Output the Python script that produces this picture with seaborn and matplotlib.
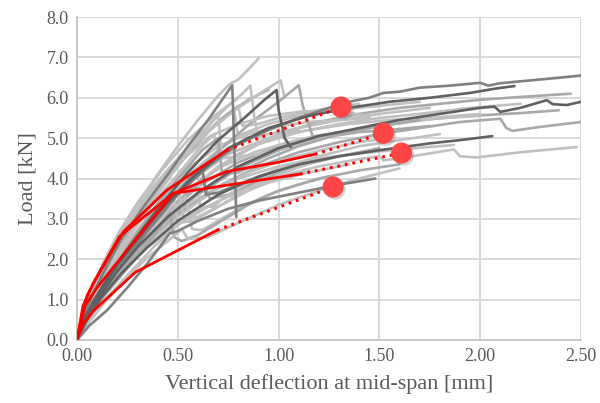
import matplotlib
matplotlib.use("Agg")
import matplotlib.pyplot as plt
import matplotlib.patheffects as pe
import seaborn as sns
import pandas as pd

# ---------------- data ----------------
LIGHT, MED, DARK, DARKER = "#c0c0c0", "#a8a8a8", "#808080", "#606060"

g01_x = [0, 0.04, 0.1, 0.2, 0.35, 0.5, 0.65, 0.8, 0.95, 1.1, 1.25, 1.35, 1.45, 1.52, 1.6, 1.7, 1.85, 2.0, 2.04, 2.1, 2.25, 2.4, 2.5]
g01_y = [0, 0.5, 1.0, 1.7, 2.7, 3.6, 4.3, 4.85, 5.2, 5.5, 5.75, 5.9, 6.0, 6.12, 6.15, 6.25, 6.3, 6.37, 6.3, 6.36, 6.43, 6.5, 6.55]
g02_x = [0, 0.04, 0.1, 0.2, 0.3, 0.45, 0.6, 0.8, 1.0, 1.2, 1.4, 1.6, 1.8, 2.0, 2.2, 2.45]
g02_y = [0, 0.5, 1.05, 1.8, 2.4, 3.2, 3.9, 4.6, 5.1, 5.4, 5.6, 5.75, 5.85, 5.95, 6.02, 6.1]
g03_x = [0, 0.04, 0.1, 0.2, 0.3, 0.45, 0.6, 0.8, 1.0, 1.2, 1.4, 1.6, 1.8, 2.0, 2.07, 2.1, 2.2, 2.33, 2.36, 2.43, 2.5]
g03_y = [0, 0.45, 1.0, 1.7, 2.3, 3.05, 3.65, 4.3, 4.75, 5.05, 5.25, 5.45, 5.6, 5.75, 5.78, 5.65, 5.75, 5.94, 5.84, 5.82, 5.9]
g04_x = [0, 0.05, 0.12, 0.22, 0.35, 0.5, 0.7, 0.9, 1.1, 1.3, 1.5, 1.7, 1.9, 2.1, 2.13, 2.16, 2.3, 2.5]
g04_y = [0, 0.5, 1.05, 1.7, 2.4, 3.1, 3.8, 4.3, 4.65, 4.9, 5.1, 5.25, 5.4, 5.48, 5.25, 5.18, 5.28, 5.4]
g05_x = [0, 0.04, 0.1, 0.2, 0.3, 0.45, 0.6, 0.8, 1.0, 1.2, 1.45, 1.7, 1.95, 2.2, 2.39]
g05_y = [0, 0.5, 1.0, 1.7, 2.3, 3.0, 3.6, 4.25, 4.7, 5.0, 5.25, 5.45, 5.55, 5.62, 5.69]
g06_x = [0, 0.05, 0.12, 0.22, 0.35, 0.5, 0.65, 0.8, 1.0, 1.2, 1.4, 1.5, 1.52, 1.6, 1.87, 1.9, 1.98, 2.2, 2.48]
g06_y = [0, 0.55, 1.1, 1.7, 2.3, 2.85, 3.3, 3.7, 4.05, 4.3, 4.48, 4.55, 4.45, 4.5, 4.72, 4.55, 4.52, 4.65, 4.78]
g07_x = [0, 0.05, 0.12, 0.22, 0.35, 0.5, 0.7, 0.9, 1.1, 1.3, 1.5, 1.75, 1.9, 2.06]
g07_y = [0, 0.5, 1.05, 1.65, 2.3, 2.95, 3.6, 4.05, 4.35, 4.55, 4.7, 4.87, 4.95, 5.05]
g08_x = [0, 0.06, 0.15, 0.25, 0.35, 0.46, 0.5, 0.6, 0.75, 0.9, 1.05, 1.2, 1.3, 1.4, 1.48]
g08_y = [0, 0.35, 0.74, 1.3, 1.9, 2.64, 2.7, 2.95, 3.25, 3.45, 3.6, 3.75, 3.85, 3.93, 4.0]
g09_x = [0, 0.05, 0.12, 0.2, 0.3, 0.45, 0.6, 0.8, 1.0, 1.2, 1.4, 1.6, 1.87]
g09_y = [0, 0.55, 1.1, 1.6, 2.2, 2.95, 3.5, 4.0, 4.3, 4.5, 4.62, 4.72, 4.83]
g10_x = [0, 0.04, 0.1, 0.2, 0.3, 0.42, 0.58, 0.75, 0.95, 1.15, 1.35, 1.55, 1.75, 1.95, 2.08, 2.17]
g10_y = [0, 0.55, 1.1, 1.85, 2.5, 3.25, 4.05, 4.75, 5.25, 5.55, 5.75, 5.9, 6.0, 6.12, 6.23, 6.29]
g11_x = [0, 0.04, 0.1, 0.2, 0.3, 0.5, 0.7, 0.9, 1.1, 1.3, 1.5, 1.7, 1.95, 2.2]
g11_y = [0, 0.5, 1.05, 1.75, 2.4, 3.45, 4.3, 4.85, 5.15, 5.35, 5.5, 5.6, 5.75, 5.85]
g12_x = [0, 0.04, 0.1, 0.18, 0.27, 0.42, 0.58, 0.75, 0.95, 1.15, 1.35, 1.55, 1.75, 2.0]
g12_y = [0, 0.5, 1.05, 1.65, 2.3, 3.2, 4.0, 4.6, 5.0, 5.2, 5.35, 5.45, 5.5, 5.6]
g13_x = [0, 0.04, 0.1, 0.2, 0.3, 0.45, 0.6, 0.8, 1.0, 1.2, 1.4, 1.55, 1.75]
g13_y = [0, 0.5, 1.0, 1.7, 2.3, 3.1, 3.8, 4.4, 4.8, 5.0, 5.15, 5.2, 5.3]
g14_x = [0, 0.05, 0.12, 0.2, 0.33, 0.5, 0.68, 0.85, 1.05, 1.25, 1.4, 1.55]
g14_y = [0, 0.55, 1.1, 1.6, 2.3, 3.05, 3.7, 4.15, 4.5, 4.75, 4.9, 5.0]
g15_x = [0, 0.03, 0.08, 0.16, 0.25, 0.4, 0.55, 0.7, 0.85, 1.0, 1.15, 1.3, 1.45]
g15_y = [0, 0.5, 1.0, 1.7, 2.4, 3.35, 4.25, 4.8, 5.1, 5.3, 5.4, 5.45, 5.5]
g16_x = [0, 0.04, 0.1, 0.18, 0.28, 0.42, 0.56, 0.72, 0.88, 1.05, 1.18, 1.3]
g16_y = [0, 0.5, 1.0, 1.6, 2.2, 3.0, 3.75, 4.3, 4.65, 4.9, 5.05, 5.15]

f01_x = [0, 0.03, 0.07, 0.14, 0.22, 0.3, 0.4, 0.5, 0.6, 0.7, 0.76, 0.8, 0.85, 0.9]
f01_y = [0, 0.6, 1.2, 2.0, 2.75, 3.35, 4.1, 4.8, 5.45, 6.05, 6.35, 6.45, 6.7, 6.97]
f02_x = [0, 0.03, 0.08, 0.15, 0.22, 0.33, 0.45, 0.55, 0.65, 0.72, 0.77, 0.78, 0.79]
f02_y = [0, 0.55, 1.15, 1.85, 2.5, 3.3, 4.1, 4.8, 5.45, 5.95, 6.31, 4.8, 3.05]
f03_x = [0, 0.03, 0.08, 0.16, 0.25, 0.4, 0.55, 0.7, 0.83, 0.93, 0.99, 1.0, 1.03, 1.06]
f03_y = [0, 0.45, 0.95, 1.6, 2.25, 3.25, 4.15, 4.95, 5.5, 5.95, 6.19, 5.7, 5.0, 4.78]
f04_x = [0, 0.04, 0.1, 0.18, 0.28, 0.42, 0.58, 0.74, 0.88, 1.0, 1.1, 1.12, 1.17, 1.22]
f04_y = [0, 0.5, 1.0, 1.65, 2.3, 3.2, 4.1, 4.85, 5.45, 5.9, 6.31, 5.8, 5.03, 5.08]
f05_x = [0, 0.03, 0.08, 0.15, 0.24, 0.38, 0.52, 0.66, 0.8, 0.92, 1.01, 1.03]
f05_y = [0, 0.55, 1.2, 1.95, 2.8, 3.75, 4.55, 5.2, 5.75, 6.15, 6.43, 6.0]
f06_x = [0, 0.03, 0.08, 0.15, 0.23, 0.36, 0.5, 0.62, 0.74, 0.82, 0.86, 0.88, 0.9]
f06_y = [0, 0.6, 1.2, 1.95, 2.7, 3.7, 4.5, 5.15, 5.75, 6.1, 6.3, 5.5, 5.0]
f08_x = [0, 0.05, 0.12, 0.22, 0.32, 0.4, 0.46, 0.48, 0.52, 0.6, 0.7, 0.85, 1.0, 1.2, 1.4, 1.6]
f08_y = [0, 0.5, 1.0, 1.6, 2.2, 2.7, 3.15, 2.55, 2.45, 2.6, 2.9, 3.35, 3.7, 4.0, 4.2, 4.35]
f09_x = [0, 0.04, 0.1, 0.2, 0.3, 0.42, 0.54, 0.57, 0.62, 0.7, 0.82, 0.95, 1.1, 1.25]
f09_y = [0, 0.55, 1.05, 1.7, 2.3, 2.95, 3.55, 2.75, 2.72, 2.95, 3.3, 3.6, 3.85, 4.05]
f10_x = [0, 0.04, 0.1, 0.18, 0.26, 0.38, 0.5, 0.6, 0.61, 0.68, 0.72, 0.85, 1.0, 1.2, 1.4, 1.6, 1.8]
f10_y = [0, 0.5, 1.05, 1.65, 2.25, 3.05, 3.7, 4.1, 3.3, 3.3, 3.5, 3.9, 4.25, 4.55, 4.8, 4.95, 5.1]
f11_x = [0, 0.04, 0.1, 0.18, 0.25, 0.38, 0.5, 0.62, 0.7, 0.72, 0.8, 0.95, 1.1, 1.3, 1.5, 1.7]
f11_y = [0, 0.5, 1.05, 1.7, 2.3, 3.25, 4.0, 4.7, 5.0, 4.1, 4.15, 4.5, 4.8, 5.1, 5.3, 5.45]
f12_x = [0, 0.03, 0.08, 0.16, 0.25, 0.38, 0.52, 0.66, 0.8, 0.95, 1.1, 1.25, 1.45]
f12_y = [0, 0.55, 1.15, 1.95, 2.7, 3.6, 4.45, 5.05, 5.35, 5.55, 5.65, 5.7, 5.55]
f13_x = [0, 0.03, 0.08, 0.15, 0.24, 0.37, 0.5, 0.62, 0.7, 0.72, 0.9, 1.2, 1.5, 1.8, 2.0]
f13_y = [0, 0.5, 1.05, 1.7, 2.45, 3.4, 4.3, 5.1, 5.6, 4.5, 4.6, 5.0, 5.3, 5.5, 5.55]
f14_x = [0, 0.04, 0.1, 0.18, 0.27, 0.4, 0.55, 0.62, 0.64, 0.7, 0.85, 1.0]
f14_y = [0, 0.5, 1.0, 1.6, 2.2, 3.1, 3.95, 4.3, 3.6, 3.65, 3.95, 4.2]
f15_x = [0, 0.04, 0.1, 0.18, 0.28, 0.4, 0.5, 0.53, 0.6, 0.7, 0.85, 1.0, 1.15]
f15_y = [0, 0.55, 1.05, 1.65, 2.35, 3.2, 3.9, 3.0, 3.05, 3.3, 3.7, 4.0, 4.2]
f16_x = [0, 0.06, 0.14, 0.24, 0.34, 0.45, 0.52, 0.55, 0.65, 0.8, 1.0, 1.2, 1.4, 1.6]
f16_y = [0, 0.45, 0.95, 1.5, 2.0, 2.45, 2.75, 2.5, 2.55, 2.9, 3.35, 3.7, 4.0, 4.25]

h01_x = [0, 0.03, 0.08, 0.15, 0.25, 0.38, 0.5, 0.62, 0.72, 0.8, 0.82, 0.9, 1.0, 1.2, 1.4]
h01_y = [0, 0.55, 1.15, 1.9, 2.75, 3.65, 4.4, 5.05, 5.5, 5.8, 5.3, 5.35, 5.5, 5.7, 5.85]
h02_x = [0, 0.03, 0.08, 0.15, 0.25, 0.38, 0.5, 0.6, 0.68, 0.7, 0.8, 0.95, 1.1]
h02_y = [0, 0.5, 1.0, 1.7, 2.5, 3.4, 4.1, 4.7, 5.1, 4.6, 4.7, 5.0, 5.2]
h03_x = [0, 0.04, 0.1, 0.18, 0.3, 0.42, 0.55, 0.65, 0.75, 0.85, 0.95]
h03_y = [0, 0.65, 1.3, 2.1, 3.0, 3.85, 4.6, 5.15, 5.6, 5.95, 6.2]
h04_x = [0, 0.04, 0.1, 0.2, 0.32, 0.45, 0.58, 0.7, 0.82, 0.95, 1.1, 1.3, 1.5, 1.7]
h04_y = [0, 0.5, 1.05, 1.85, 2.7, 3.5, 4.2, 4.7, 5.1, 5.35, 5.55, 5.7, 5.8, 5.9]
h05_x = [0, 0.04, 0.1, 0.2, 0.3, 0.4, 0.48, 0.5, 0.58, 0.7, 0.85, 1.0, 1.2]
h05_y = [0, 0.5, 1.05, 1.8, 2.5, 3.1, 3.5, 2.9, 2.95, 3.3, 3.75, 4.1, 4.45]
h06_x = [0, 0.03, 0.08, 0.16, 0.26, 0.38, 0.5, 0.6, 0.7, 0.78, 0.8, 0.9, 1.05, 1.25, 1.5, 1.75]
h06_y = [0, 0.55, 1.15, 1.95, 2.8, 3.65, 4.4, 4.95, 5.4, 5.7, 5.0, 5.05, 5.2, 5.4, 5.6, 5.75]
h07_x = [0, 0.05, 0.12, 0.22, 0.35, 0.5, 0.62, 0.66, 0.75, 0.9, 1.1, 1.3, 1.5]
h07_y = [0, 0.5, 1.05, 1.7, 2.5, 3.4, 4.0, 3.5, 3.6, 3.95, 4.3, 4.55, 4.75]
h08_x = [0, 0.06, 0.14, 0.25, 0.38, 0.5, 0.6, 0.75, 0.95, 1.15, 1.35]
h08_y = [0, 0.5, 1.0, 1.6, 2.3, 2.85, 3.2, 3.55, 3.9, 4.15, 4.35]
h09_x = [0, 0.03, 0.07, 0.13, 0.2, 0.3, 0.42, 0.55, 0.68, 0.8]
h09_y = [0, 0.6, 1.2, 1.9, 2.6, 3.4, 4.2, 4.95, 5.55, 6.0]

grey_curves = [
    ("g06", g06_x, g06_y, LIGHT), ("g09", g09_x, g09_y, LIGHT), ("g04", g04_x, g04_y, MED),
    ("g05", g05_x, g05_y, MED), ("g02", g02_x, g02_y, MED), ("g11", g11_x, g11_y, LIGHT),
    ("g12", g12_x, g12_y, LIGHT), ("g13", g13_x, g13_y, MED), ("g14", g14_x, g14_y, LIGHT),
    ("g15", g15_x, g15_y, LIGHT), ("g16", g16_x, g16_y, LIGHT),
    ("h08", h08_x, h08_y, LIGHT), ("h07", h07_x, h07_y, MED), ("h05", h05_x, h05_y, LIGHT),
    ("h04", h04_x, h04_y, LIGHT), ("h01", h01_x, h01_y, LIGHT), ("h02", h02_x, h02_y, LIGHT),
    ("h06", h06_x, h06_y, LIGHT), ("h03", h03_x, h03_y, MED), ("h09", h09_x, h09_y, LIGHT),
    ("f01", f01_x, f01_y, LIGHT), ("f05", f05_x, f05_y, LIGHT), ("f06", f06_x, f06_y, LIGHT),
    ("f04", f04_x, f04_y, MED), ("f12", f12_x, f12_y, LIGHT), ("f13", f13_x, f13_y, LIGHT),
    ("f11", f11_x, f11_y, MED), ("f10", f10_x, f10_y, LIGHT), ("f15", f15_x, f15_y, LIGHT),
    ("f09", f09_x, f09_y, LIGHT), ("f08", f08_x, f08_y, MED), ("f16", f16_x, f16_y, LIGHT),
    ("f14", f14_x, f14_y, DARK), ("f02", f02_x, f02_y, DARK), ("f03", f03_x, f03_y, DARKER),
    ("g01", g01_x, g01_y, DARK), ("g03", g03_x, g03_y, DARKER), ("g07", g07_x, g07_y, DARKER),
    ("g10", g10_x, g10_y, DARKER), ("g08", g08_x, g08_y, DARK),
]

# red idealised curves (solid part) and their end markers
r1_x = [0, 0.02, 0.05, 0.09, 0.23, 0.445, 0.743]
r1_y = [0, 0.5, 1.1, 1.48, 2.68, 3.71, 4.70]
r2_x = [0, 0.03, 0.08, 0.21, 0.478, 0.742, 1.007, 1.18]
r2_y = [0, 0.85, 1.4, 2.56, 3.63, 4.17, 4.41, 4.60]
r3_x = [0, 0.04, 0.1, 0.255, 0.478, 1.106]
r3_y = [0, 0.85, 1.3, 2.27, 3.63, 4.11]
r4_x = [0, 0.03, 0.083, 0.29, 0.695]
r4_y = [0, 0.4, 0.73, 1.68, 2.72]
end_x = [1.31, 1.52, 1.61, 1.27]
end_y = [5.77, 5.12, 4.63, 3.79]

x_ticks = [0.0, 0.5, 1.0, 1.5, 2.0, 2.5]
y_ticks = [0, 1, 2, 3, 4, 5, 6, 7, 8]
x_label = "Vertical deflection at mid-span [mm]"
y_label = "Load [kN]"

# ---------------- plotting ----------------
sns.set_theme(style="white")
plt.rcParams["font.family"] = ["Liberation Serif", "DejaVu Serif"]
TXT = "#595959"
GRID = "#d9d9d9"

fig = plt.figure(figsize=(6.0, 4.03), dpi=100)
ax = fig.add_axes([77 / 600, 63 / 403, 504 / 600, 323 / 403])

rows = []
for name, xs, ys, col in grey_curves:
    for i, (xv, yv) in enumerate(zip(xs, ys)):
        rows.append({"curve": name, "x": xv, "y": yv, "order": i})
df = pd.DataFrame(rows)
palette = {name: col for name, _, _, col in grey_curves}

sns.lineplot(data=df, x="x", y="y", hue="curve", hue_order=[c[0] for c in grey_curves],
             palette=palette, sort=False, estimator=None, legend=False,
             linewidth=1.9, ax=ax, zorder=2)

reds = [(r1_x, r1_y), (r2_x, r2_y), (r3_x, r3_y), (r4_x, r4_y)]
for (xs, ys), ex, ey in zip(reds, end_x, end_y):
    sns.lineplot(x=xs, y=ys, sort=False, estimator=None, color="#ff0000",
                 linewidth=2.0, ax=ax, zorder=4)
    sns.lineplot(x=[xs[-1], ex], y=[ys[-1], ey], sort=False, estimator=None,
                 color="#ff0000", linewidth=2.2, linestyle=(0, (0.9, 1.6)),
                 ax=ax, zorder=4)

sns.scatterplot(x=end_x, y=end_y, s=230, color="#ff4545", edgecolor="none",
                ax=ax, zorder=6,
                path_effects=[pe.SimplePatchShadow(offset=(1.5, -1.5), alpha=0.35, shadow_rgbFace="#808080"),
                              pe.Normal()])

ax.set_xlim(0, 2.5)
ax.set_ylim(0, 8)
ax.set_xticks(x_ticks)
ax.set_yticks(y_ticks)
ax.set_xticklabels([f"{v:.2f}" for v in x_ticks])
ax.set_yticklabels([f"{v:.1f}" for v in y_ticks])
ax.tick_params(axis="both", length=0, labelsize=13, colors=TXT, pad=6)
ax.grid(True, color=GRID, linewidth=1.4, zorder=0)
ax.set_axisbelow(True)
for side in ["top", "right"]:
    ax.spines[side].set_visible(False)
for side in ["left", "bottom"]:
    ax.spines[side].set_color("#c8c8c8")
    ax.spines[side].set_linewidth(1.4)

ax.set_xlabel(x_label, fontsize=16, color=TXT, labelpad=6)
ax.set_ylabel(y_label, fontsize=16, color=TXT, labelpad=6)

fig.savefig("out.png", dpi=100, facecolor="white")
